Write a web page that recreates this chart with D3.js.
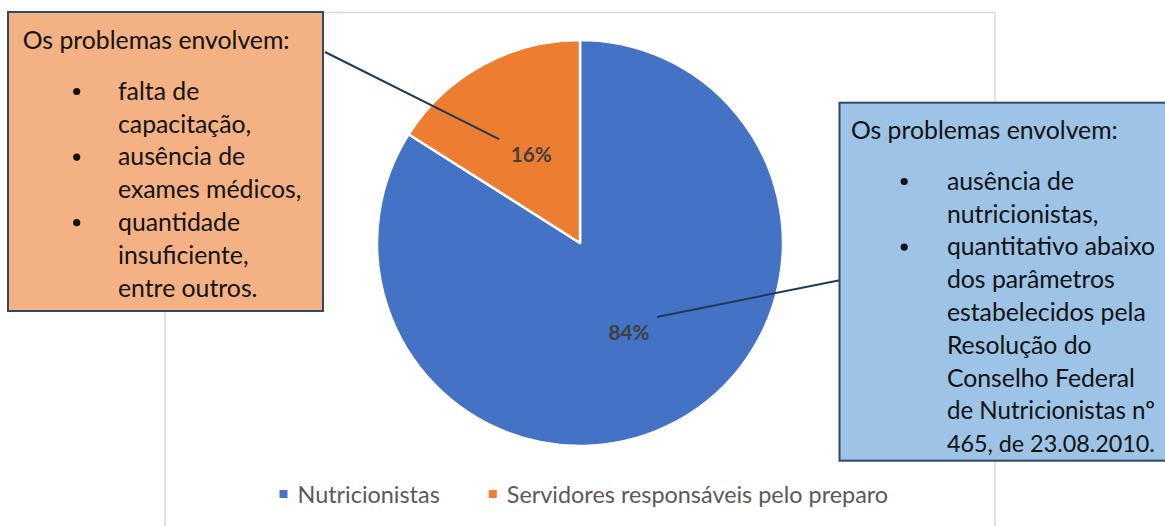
<!DOCTYPE html>
<html><head><meta charset="utf-8">
<script src="https://cdn.jsdelivr.net/npm/d3@7"></script>
<style>body{margin:0;background:#fff}svg{display:block}</style>
</head><body>
<script>
const categories = ["Nutricionistas", "Servidores responsáveis pelo preparo"];
const values = [84, 16];
const colors = ["#4472C4", "#ED7D31"];
const labelTexts = ["84%", "16%"];
const noteTitle = "Os problemas envolvem:";
const leftNoteItems = [["falta de", "capacitação,"], ["ausência de", "exames médicos,"], ["quantidade", "insuficiente,", "entre outros."]];
const rightNoteItems = [["ausência de", "nutricionistas,"], ["quantitativo abaixo", "dos parâmetros", "estabelecidos pela", "Resolução do", "Conselho Federal", "de Nutricionistas nº", "465, de 23.08.2010."]];

const W = 1165, H = 526;
const FONT = "Lato, 'Open Sans', sans-serif";
const svg = d3.select("body").append("svg").attr("width", W).attr("height", H);

function fitSize(text, weight, target) {
  const t = svg.append("text").attr("font-family", FONT).attr("font-weight", weight).attr("font-size", 100).text(text);
  const w = t.node().getComputedTextLength();
  t.remove();
  return 100 * target / w;
}

// chart area border
svg.append("rect").attr("x", 165).attr("y", 12.5).attr("width", 830).attr("height", 600)
  .attr("fill", "none").attr("stroke", "#d9d9d9").attr("stroke-width", 1.5);

// pie
const cx = 580, cy = 243, R = 203;
const pie = d3.pie().sort(null).value(d => d)(values);
const arc = d3.arc().innerRadius(0).outerRadius(R);
const pg = svg.append("g").attr("transform", `translate(${cx},${cy})`);
pg.selectAll("path").data(pie).join("path")
  .attr("d", arc).attr("fill", (d, i) => colors[i])
  .attr("stroke", "#fff").attr("stroke-width", 2.5).attr("stroke-linejoin", "round");

const labelSize = fitSize("16%", "bold", 41);
const labelArc = d3.arc().innerRadius(0).outerRadius(R * 1.0);
const labelPos = pie.map(d => labelArc.centroid(d));
pg.selectAll("text.lbl").data(pie).join("text").attr("class", "lbl")
  .attr("x", (d, i) => labelPos[i][0]).attr("y", (d, i) => labelPos[i][1])
  .attr("text-anchor", "middle").attr("dominant-baseline", "central")
  .attr("font-family", FONT).attr("font-weight", "bold").attr("font-size", labelSize)
  .attr("fill", "#404040").text((d, i) => labelTexts[i]);

// leader lines
const lineColor = "#1f3a56";
svg.append("line").attr("x1", 325).attr("y1", 52).attr("x2", cx + labelPos[1][0] - 32).attr("y2", cy + labelPos[1][1] - 15)
  .attr("stroke", lineColor).attr("stroke-width", 2);
svg.append("line").attr("x1", 841).attr("y1", 280).attr("x2", cx + labelPos[0][0] + 28).attr("y2", cy + labelPos[0][1] - 15)
  .attr("stroke", lineColor).attr("stroke-width", 2);

// notes
const noteSize = fitSize(noteTitle, "normal", 267);
function drawNote(x, y, w, h, fill, items, o) {
  const g = svg.append("g");
  g.append("rect").attr("x", x).attr("y", y).attr("width", w).attr("height", h)
    .attr("fill", fill).attr("stroke", "#2f4a68").attr("stroke-width", 2);
  g.append("text").attr("x", x + o.titleX).attr("y", y + o.titleY)
    .attr("font-family", FONT).attr("font-size", noteSize).attr("fill", "#111").text(noteTitle);
  let by = y + o.titleY + 50.5;
  items.forEach(lines => {
    g.append("circle").attr("cx", x + o.bulletX).attr("cy", by - 8.3).attr("r", 3.6).attr("fill", "#111");
    lines.forEach(l => {
      const t = g.append("text").attr("x", x + o.textX).attr("y", by)
        .attr("font-family", FONT).attr("font-size", noteSize).attr("fill", "#111").text(l);
      const len = t.node().getComputedTextLength();
      if (len > o.maxW) t.attr("font-size", noteSize * o.maxW / len);
      by += 32.8;
    });
  });
}
drawNote(8, 12, 315, 299, "#F4B183", leftNoteItems, {titleX: 14.7, titleY: 37.3, bulletX: 68.7, textX: 110, maxW: 200});
drawNote(839.5, 102.7, 340, 358, "#9DC3E6", rightNoteItems, {titleX: 11.4, titleY: 36.6, bulletX: 64.7, textX: 107.4, maxW: 208});

// legend
const legSize = fitSize(categories[1], "normal", 381.6);
const lg = svg.append("g");
let lx = 279.5;
categories.forEach((c, i) => {
  lg.append("rect").attr("x", lx).attr("y", 490).attr("width", 8).attr("height", 8).attr("fill", colors[i]);
  const t = lg.append("text").attr("x", lx + 18).attr("y", 502.5)
    .attr("font-family", FONT).attr("font-size", legSize).attr("fill", "#595959").text(c);
  lx += 18 + t.node().getComputedTextLength() + 49;
});
</script>
</body></html>
